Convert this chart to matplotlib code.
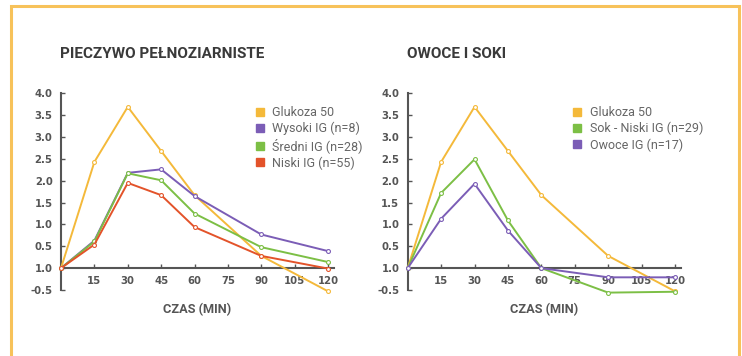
import matplotlib.pyplot as plt
from matplotlib.lines import Line2D
from matplotlib.patches import Rectangle

# time points (min)
czas = [0, 15, 30, 45, 60, 90, 120]

# left panel: whole-grain bread
glukoza = [0, 2.43, 3.69, 2.68, 1.67, 0.28, -0.53]
wysoki = [0, 0.63, 2.18, 2.26, 1.65, 0.77, 0.39]
sredni = [0, 0.61, 2.17, 2.01, 1.25, 0.48, 0.14]
niski = [0, 0.54, 1.95, 1.67, 0.94, 0.28, -0.01]

# right panel: fruit and juices
sok = [0, 1.72, 2.49, 1.09, 0.0, -0.56, -0.54]
owoce = [0, 1.13, 1.93, 0.86, 0.0, -0.21, -0.21]

x_ticks = [15, 30, 45, 60, 75, 90, 105, 120]
y_ticks = [-0.5, 0, 0.5, 1.0, 1.5, 2.0, 2.5, 3.0, 3.5, 4.0]
y_tick_labels = ['-0.5', '1.0', '0.5', '1.0', '1.5', '2.0', '2.5', '3.0', '3.5', '4.0']

YELLOW = '#F4B93A'
PURPLE = '#7B5DB6'
GREEN = '#7CBF45'
RED = '#E3532A'
AXIS = '#555555'

plt.rcParams['font.family'] = ['Roboto', 'DejaVu Sans']

fig = plt.figure(figsize=(7.42, 3.56), dpi=100)
fig.patches.append(Rectangle((11 / 742, -0.05), 728 / 742, 1.05 - 6 / 356,
                             transform=fig.transFigure, fill=False,
                             edgecolor='#F7C25A', linewidth=2.2))


def draw_panel(ax, series, title, legend_x):
    for values, color, label in series:
        ax.plot(czas, values, color=color, linewidth=1.4, marker='o',
                markersize=2.8, markerfacecolor='white', markeredgewidth=0.8,
                label=label, zorder=3, clip_on=False)
    ax.set_xlim(0, 122.5)
    ax.set_ylim(-0.5, 4.0)
    ax.spines['top'].set_visible(False)
    ax.spines['right'].set_visible(False)
    ax.spines['bottom'].set_position(('data', 0))
    ax.spines['bottom'].set_color(AXIS)
    ax.spines['left'].set_color(AXIS)
    ax.spines['bottom'].set_linewidth(1.5)
    ax.spines['left'].set_linewidth(1.5)
    ax.set_xticks(x_ticks)
    ax.set_yticks(y_ticks)
    ax.set_yticklabels(y_tick_labels)
    ax.tick_params(axis='both', direction='in', length=3, width=1,
                   color=AXIS, labelcolor=AXIS, labelsize=7.3)
    ax.tick_params(axis='x', pad=6)
    ax.tick_params(axis='y', pad=6)
    for lab in ax.get_xticklabels() + ax.get_yticklabels():
        lab.set_fontweight('bold')
        lab.set_family('DejaVu Sans')
    ax.text(0.5, -0.097, 'CZAS (MIN)', transform=ax.transAxes,
            ha='center', va='center', fontsize=9.2, fontweight='bold',
            color=AXIS)
    pos = ax.get_position()
    fig.text(pos.x0 - 1 / 742, 1 - 54 / 356, title, ha='left', va='center',
             fontsize=11, fontweight='bold', color='#3a3a3a')
    handles = [Line2D([], [], marker='s', linestyle='none', markersize=6,
                      color=c, label=l) for _, c, l in series]
    leg = fig.legend(handles=handles, loc='upper left',
                     bbox_to_anchor=(legend_x, 1 - 106 / 356),
                     frameon=False, fontsize=9, handlelength=0.8,
                     handletextpad=0.6, labelspacing=0.24,
                     borderaxespad=0, borderpad=0)
    for t in leg.get_texts():
        t.set_color('#666666')


ax1 = fig.add_axes([61 / 742, 1 - 290 / 356, 272.6 / 742, 196.7 / 356])
draw_panel(ax1, [(glukoza, YELLOW, 'Glukoza 50'),
                 (wysoki, PURPLE, 'Wysoki IG (n=8)'),
                 (sredni, GREEN, 'Średni IG (n=28)'),
                 (niski, RED, 'Niski IG (n=55)')],
           'PIECZYWO PEŁNOZIARNISTE', 255 / 742)

ax2 = fig.add_axes([407.7 / 742, 1 - 290 / 356, 272.9 / 742, 196.7 / 356])
draw_panel(ax2, [(glukoza, YELLOW, 'Glukoza 50'),
                 (sok, GREEN, 'Sok - Niski IG (n=29)'),
                 (owoce, PURPLE, 'Owoce IG (n=17)')],
           'OWOCE I SOKI', 572 / 742)

fig.savefig('out.png', dpi=100)
